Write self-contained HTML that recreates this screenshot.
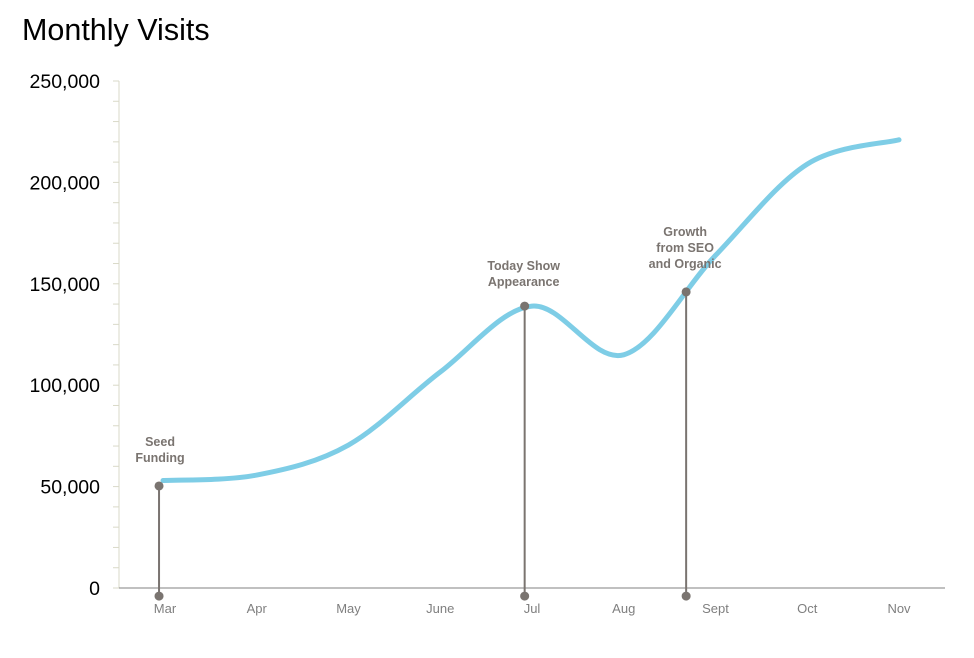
<!DOCTYPE html>
<html><head><meta charset="utf-8"><style>
body{margin:0;background:#fff;}
svg{display:block;font-family:"Liberation Sans",sans-serif;}
</style></head><body>
<svg id="chart" width="974" height="658">
<text x="22" y="40" font-size="30.5" fill="#000">Monthly Visits</text>
<g id="axes"></g>
<g id="series"></g>
<g id="annotations"></g>
</svg>
<script>
const categories = ["Mar","Apr","May","June","Jul","Aug","Sept","Oct","Nov"];
const visits = [53000,55700,70500,106500,139000,115000,164000,209000,221000];
const yTicks = [0,50000,100000,150000,200000,250000];
const yTickLabels = ["0","50,000","100,000","150,000","200,000","250,000"];
const annotationLabels = [["Seed","Funding"],["Today Show","Appearance"],["Growth","from SEO","and Organic"]];
const annotationPos = [-0.065,3.92,5.68];
const annotationValues = [50300,139000,146000];
const annotationBase = -4000;

const NS="http://www.w3.org/2000/svg";
const x0=165, dx=91.75, yBase=588, yTop=81, yMax=250000;
const xs=i=>x0+i*dx;
const ys=v=>yBase-(v/yMax)*(yBase-yTop);
function mk(tag,attrs,parent){const e=document.createElementNS(NS,tag);for(const k in attrs)e.setAttribute(k,attrs[k]);parent.appendChild(e);return e;}
const axes=document.getElementById('axes'), series=document.getElementById('series'), ann=document.getElementById('annotations');

let yl=mk('line',{x1:119,y1:ys(yMax),x2:119,y2:yBase,stroke:'#d9d9c8','stroke-width':1},axes);


for(let v=0;v<=yMax;v+=10000){
  const t=mk('line',{x1:113,y1:ys(v),x2:119,y2:ys(v),stroke:'#d9d9c8','stroke-width':1},axes);
  
  
}
yTicks.forEach((v,i)=>{
  const t=mk('text',{x:100,y:ys(v)+7,'text-anchor':'end','font-size':19.5,fill:'#000'},axes);
  t.textContent=yTickLabels[i];
  
  
});
let xl=mk('line',{x1:119,y1:yBase,x2:945,y2:yBase,stroke:'#808080','stroke-width':1},axes);


categories.forEach((c,i)=>{
  const t=mk('text',{x:xs(i),y:613,'text-anchor':'middle','font-size':13,fill:'#7f7f7f'},axes);
  t.textContent=c;
  
  
});

const pts=visits.map((v,i)=>[xs(i),ys(v)]);
pts[0][0]-=2;
let d=`M${pts[0][0]},${pts[0][1]}`;
for(let i=0;i<pts.length-1;i++){
  const p0=pts[Math.max(0,i-1)],p1=pts[i],p2=pts[i+1],p3=pts[Math.min(pts.length-1,i+2)];
  const c1=[p1[0]+(p2[0]-p0[0])/6,p1[1]+(p2[1]-p0[1])/6];
  const c2=[p2[0]-(p3[0]-p1[0])/6,p2[1]-(p3[1]-p1[1])/6];
  d+=` C${c1[0]},${c1[1]} ${c2[0]},${c2[1]} ${p2[0]},${p2[1]}`;
}
const line=mk('path',{d:d,fill:'none',stroke:'#7ecde6','stroke-width':5,'stroke-linecap':'round'},series);



annotationPos.forEach((p,i)=>{
  const x=xs(p), yt=ys(annotationValues[i]), yb=ys(annotationBase);
  const g=mk('g',{},ann);
  
  
  mk('line',{x1:x,y1:yt,x2:x,y2:yb,stroke:'#7a7470','stroke-width':2},g);
  mk('circle',{cx:x,cy:yt,r:4.5,fill:'#7a7470'},g);
  mk('circle',{cx:x,cy:yb,r:4.5,fill:'#7a7470'},g);
  const lines=annotationLabels[i];
  const gap=(i===1)?20:(i===0?24:24);
  lines.forEach((s,j)=>{
    const t=mk('text',{x:x+(i===0?1:-1),y:yt-gap-(lines.length-1-j)*16,'text-anchor':'middle','font-size':12.5,'font-weight':'bold',fill:'#7a7470'},g);
    t.textContent=s;
    
    
  });
});
</script>
</body></html>
